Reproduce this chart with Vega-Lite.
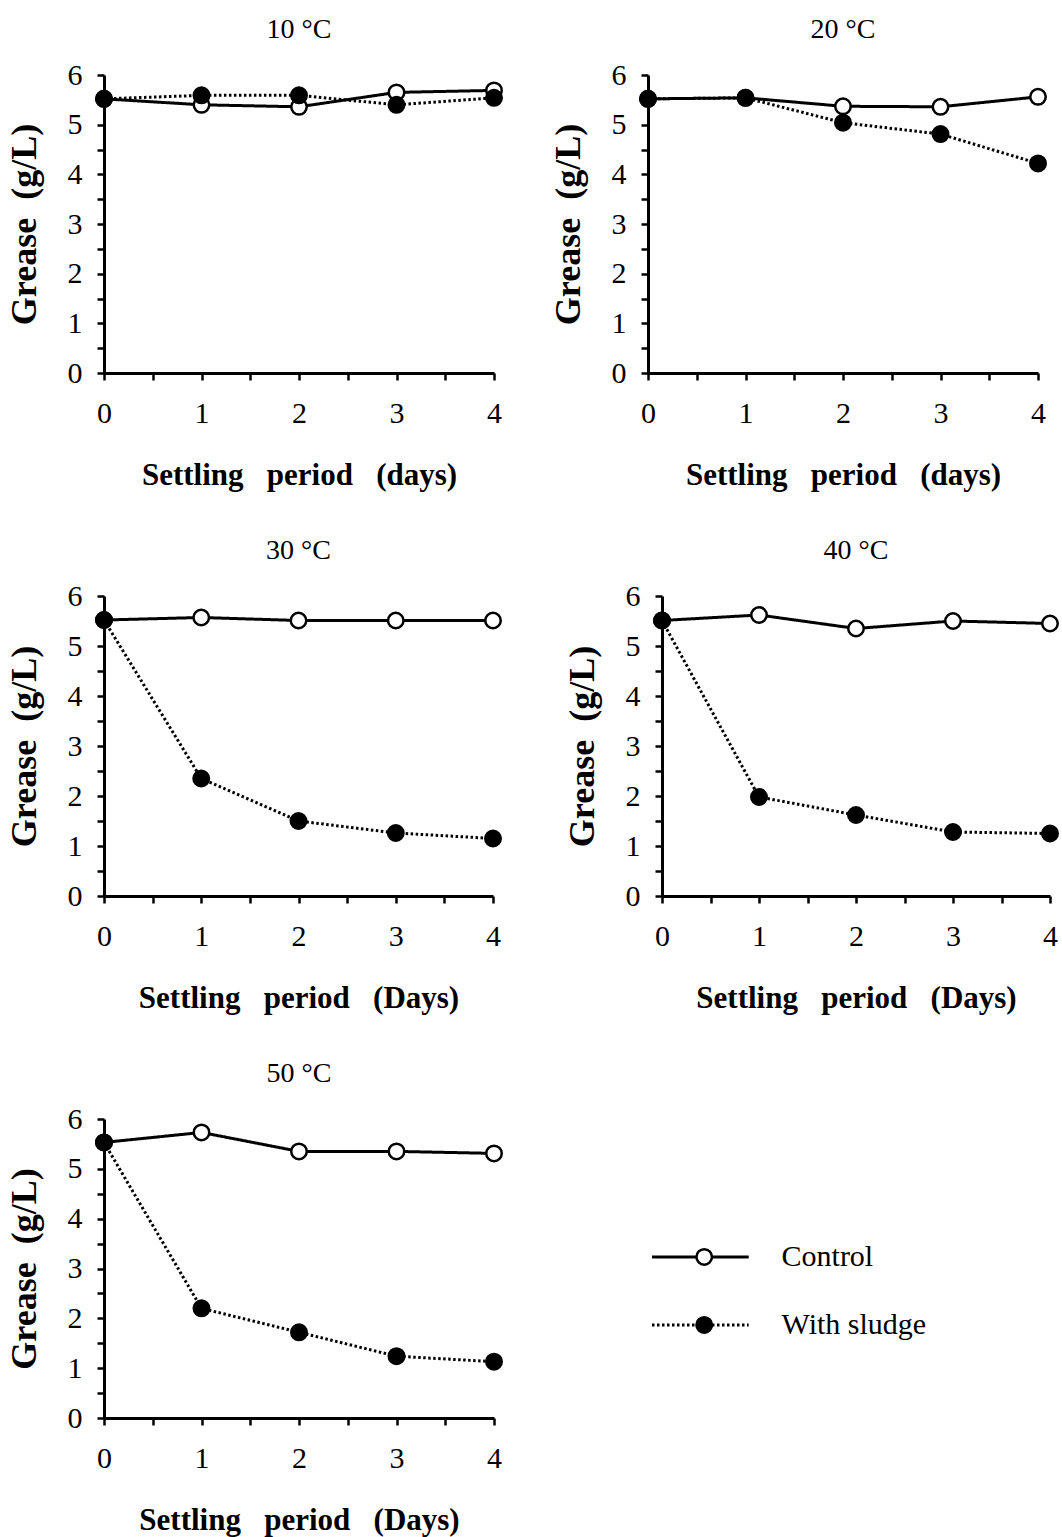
{
  "$schema": "https://vega.github.io/schema/vega-lite/v6.json",
  "background": "white",
  "padding": {"left": 6, "top": 16, "right": 5, "bottom": 5},
  "data": {"values": [
    {"temp": "10 °C", "series": "Control", "day": 0, "grease": 5.52},
    {"temp": "10 °C", "series": "Control", "day": 1, "grease": 5.40},
    {"temp": "10 °C", "series": "Control", "day": 2, "grease": 5.36},
    {"temp": "10 °C", "series": "Control", "day": 3, "grease": 5.65},
    {"temp": "10 °C", "series": "Control", "day": 4, "grease": 5.69},
    {"temp": "20 °C", "series": "Control", "day": 0, "grease": 5.52},
    {"temp": "20 °C", "series": "Control", "day": 1, "grease": 5.54},
    {"temp": "20 °C", "series": "Control", "day": 2, "grease": 5.37},
    {"temp": "20 °C", "series": "Control", "day": 3, "grease": 5.36},
    {"temp": "20 °C", "series": "Control", "day": 4, "grease": 5.56},
    {"temp": "30 °C", "series": "Control", "day": 0, "grease": 5.52},
    {"temp": "30 °C", "series": "Control", "day": 1, "grease": 5.57},
    {"temp": "30 °C", "series": "Control", "day": 2, "grease": 5.51},
    {"temp": "30 °C", "series": "Control", "day": 3, "grease": 5.51},
    {"temp": "30 °C", "series": "Control", "day": 4, "grease": 5.51},
    {"temp": "40 °C", "series": "Control", "day": 0, "grease": 5.51},
    {"temp": "40 °C", "series": "Control", "day": 1, "grease": 5.62},
    {"temp": "40 °C", "series": "Control", "day": 2, "grease": 5.35},
    {"temp": "40 °C", "series": "Control", "day": 3, "grease": 5.50},
    {"temp": "40 °C", "series": "Control", "day": 4, "grease": 5.45},
    {"temp": "50 °C", "series": "Control", "day": 0, "grease": 5.53},
    {"temp": "50 °C", "series": "Control", "day": 1, "grease": 5.73},
    {"temp": "50 °C", "series": "Control", "day": 2, "grease": 5.35},
    {"temp": "50 °C", "series": "Control", "day": 3, "grease": 5.35},
    {"temp": "50 °C", "series": "Control", "day": 4, "grease": 5.31},
    {"temp": "10 °C", "series": "With sludge", "day": 0, "grease": 5.52},
    {"temp": "10 °C", "series": "With sludge", "day": 1, "grease": 5.59},
    {"temp": "10 °C", "series": "With sludge", "day": 2, "grease": 5.59},
    {"temp": "10 °C", "series": "With sludge", "day": 3, "grease": 5.40},
    {"temp": "10 °C", "series": "With sludge", "day": 4, "grease": 5.54},
    {"temp": "20 °C", "series": "With sludge", "day": 0, "grease": 5.52},
    {"temp": "20 °C", "series": "With sludge", "day": 1, "grease": 5.54},
    {"temp": "20 °C", "series": "With sludge", "day": 2, "grease": 5.04},
    {"temp": "20 °C", "series": "With sludge", "day": 3, "grease": 4.81},
    {"temp": "20 °C", "series": "With sludge", "day": 4, "grease": 4.22},
    {"temp": "30 °C", "series": "With sludge", "day": 0, "grease": 5.52},
    {"temp": "30 °C", "series": "With sludge", "day": 1, "grease": 2.35},
    {"temp": "30 °C", "series": "With sludge", "day": 2, "grease": 1.50},
    {"temp": "30 °C", "series": "With sludge", "day": 3, "grease": 1.26},
    {"temp": "30 °C", "series": "With sludge", "day": 4, "grease": 1.15},
    {"temp": "40 °C", "series": "With sludge", "day": 0, "grease": 5.51},
    {"temp": "40 °C", "series": "With sludge", "day": 1, "grease": 1.98},
    {"temp": "40 °C", "series": "With sludge", "day": 2, "grease": 1.62},
    {"temp": "40 °C", "series": "With sludge", "day": 3, "grease": 1.28},
    {"temp": "40 °C", "series": "With sludge", "day": 4, "grease": 1.25},
    {"temp": "50 °C", "series": "With sludge", "day": 0, "grease": 5.53},
    {"temp": "50 °C", "series": "With sludge", "day": 1, "grease": 2.20},
    {"temp": "50 °C", "series": "With sludge", "day": 2, "grease": 1.72},
    {"temp": "50 °C", "series": "With sludge", "day": 3, "grease": 1.24},
    {"temp": "50 °C", "series": "With sludge", "day": 4, "grease": 1.13}
  ]},
  "config": {
    "view": {"stroke": null},
    "font": "Liberation Serif",
    "title": {"font": "Liberation Serif", "fontSize": 28, "fontWeight": "normal", "color": "black", "anchor": "middle", "offset": 16},
    "axis": {
      "grid": false,
      "domainColor": "black", "domainWidth": 3,
      "tickColor": "black", "tickWidth": 2.5, "tickSize": 7,
      "labelFont": "Liberation Serif", "labelFontSize": 30, "labelColor": "black",
      "labelFlush": false, "labelOverlap": false,
      "titleFont": "Liberation Serif", "titleFontWeight": "bold", "titleColor": "black"
    },
    "axisX": {"labelPadding": 18, "titlePadding": 32, "titleFontSize": 31},
    "axisY": {"labelPadding": 15, "titlePadding": 24, "titleFontSize": 36}
  },
  "spacing": 47,
  "vconcat": [
    {"spacing": 43, "hconcat": [
      {"title": "10 °C", "width": 390, "height": 298,
       "transform": [{"filter": "datum.temp === '10 °C'"}],
       "encoding": {
         "x": {"field": "day", "type": "quantitative", "scale": {"domain": [0, 4], "nice": false},
               "axis": {"title": "Settling\u00a0\u00a0\u00a0period\u00a0\u00a0\u00a0(days)", "values": [0, 0.5, 1, 1.5, 2, 2.5, 3, 3.5, 4], "labelExpr": "datum.value % 1 === 0 ? format(datum.value, 'd') : ''"}},
         "y": {"field": "grease", "type": "quantitative", "scale": {"domain": [0, 6], "nice": false},
               "axis": {"title": "Grease\u00a0\u00a0(g/L)", "values": [0, 0.5, 1, 1.5, 2, 2.5, 3, 3.5, 4, 4.5, 5, 5.5, 6], "labelExpr": "datum.value % 1 === 0 ? format(datum.value, 'd') : ''"}}
       },
       "layer": [
         {"mark": {"type": "line", "color": "black", "strokeWidth": 3},
          "encoding": {"strokeDash": {"field": "series", "type": "nominal", "scale": {"domain": ["Control", "With sludge"], "range": [[1, 0], [2.5, 2.5]]}, "legend": null}}},
         {"mark": {"type": "point", "shape": "circle", "filled": true, "opacity": 1, "stroke": "black", "strokeWidth": 2.5, "size": 240},
          "encoding": {"fill": {"field": "series", "type": "nominal", "scale": {"domain": ["Control", "With sludge"], "range": ["white", "black"]}, "legend": null}}}
       ]},
      {"title": "20 °C", "width": 390, "height": 298,
       "transform": [{"filter": "datum.temp === '20 °C'"}],
       "encoding": {
         "x": {"field": "day", "type": "quantitative", "scale": {"domain": [0, 4], "nice": false},
               "axis": {"title": "Settling\u00a0\u00a0\u00a0period\u00a0\u00a0\u00a0(days)", "values": [0, 0.5, 1, 1.5, 2, 2.5, 3, 3.5, 4], "labelExpr": "datum.value % 1 === 0 ? format(datum.value, 'd') : ''"}},
         "y": {"field": "grease", "type": "quantitative", "scale": {"domain": [0, 6], "nice": false},
               "axis": {"title": "Grease\u00a0\u00a0(g/L)", "values": [0, 0.5, 1, 1.5, 2, 2.5, 3, 3.5, 4, 4.5, 5, 5.5, 6], "labelExpr": "datum.value % 1 === 0 ? format(datum.value, 'd') : ''"}}
       },
       "layer": [
         {"mark": {"type": "line", "color": "black", "strokeWidth": 3},
          "encoding": {"strokeDash": {"field": "series", "type": "nominal", "scale": {"domain": ["Control", "With sludge"], "range": [[1, 0], [2.5, 2.5]]}, "legend": null}}},
         {"mark": {"type": "point", "shape": "circle", "filled": true, "opacity": 1, "stroke": "black", "strokeWidth": 2.5, "size": 240},
          "encoding": {"fill": {"field": "series", "type": "nominal", "scale": {"domain": ["Control", "With sludge"], "range": ["white", "black"]}, "legend": null}}}
       ]}
    ]},
    {"spacing": 58, "hconcat": [
      {"title": "30 °C", "width": 389, "height": 300,
       "transform": [{"filter": "datum.temp === '30 °C'"}],
       "encoding": {
         "x": {"field": "day", "type": "quantitative", "scale": {"domain": [0, 4], "nice": false},
               "axis": {"title": "Settling\u00a0\u00a0\u00a0period\u00a0\u00a0\u00a0(Days)", "values": [0, 0.5, 1, 1.5, 2, 2.5, 3, 3.5, 4], "labelExpr": "datum.value % 1 === 0 ? format(datum.value, 'd') : ''"}},
         "y": {"field": "grease", "type": "quantitative", "scale": {"domain": [0, 6], "nice": false},
               "axis": {"title": "Grease\u00a0\u00a0(g/L)", "values": [0, 0.5, 1, 1.5, 2, 2.5, 3, 3.5, 4, 4.5, 5, 5.5, 6], "labelExpr": "datum.value % 1 === 0 ? format(datum.value, 'd') : ''"}}
       },
       "layer": [
         {"mark": {"type": "line", "color": "black", "strokeWidth": 3},
          "encoding": {"strokeDash": {"field": "series", "type": "nominal", "scale": {"domain": ["Control", "With sludge"], "range": [[1, 0], [2.5, 2.5]]}, "legend": null}}},
         {"mark": {"type": "point", "shape": "circle", "filled": true, "opacity": 1, "stroke": "black", "strokeWidth": 2.5, "size": 240},
          "encoding": {"fill": {"field": "series", "type": "nominal", "scale": {"domain": ["Control", "With sludge"], "range": ["white", "black"]}, "legend": null}}}
       ]},
      {"title": "40 °C", "width": 388, "height": 300,
       "transform": [{"filter": "datum.temp === '40 °C'"}],
       "encoding": {
         "x": {"field": "day", "type": "quantitative", "scale": {"domain": [0, 4], "nice": false},
               "axis": {"title": "Settling\u00a0\u00a0\u00a0period\u00a0\u00a0\u00a0(Days)", "values": [0, 0.5, 1, 1.5, 2, 2.5, 3, 3.5, 4], "labelExpr": "datum.value % 1 === 0 ? format(datum.value, 'd') : ''"}},
         "y": {"field": "grease", "type": "quantitative", "scale": {"domain": [0, 6], "nice": false},
               "axis": {"title": "Grease\u00a0\u00a0(g/L)", "values": [0, 0.5, 1, 1.5, 2, 2.5, 3, 3.5, 4, 4.5, 5, 5.5, 6], "labelExpr": "datum.value % 1 === 0 ? format(datum.value, 'd') : ''"}}
       },
       "layer": [
         {"mark": {"type": "line", "color": "black", "strokeWidth": 3},
          "encoding": {"strokeDash": {"field": "series", "type": "nominal", "scale": {"domain": ["Control", "With sludge"], "range": [[1, 0], [2.5, 2.5]]}, "legend": null}}},
         {"mark": {"type": "point", "shape": "circle", "filled": true, "opacity": 1, "stroke": "black", "strokeWidth": 2.5, "size": 240},
          "encoding": {"fill": {"field": "series", "type": "nominal", "scale": {"domain": ["Control", "With sludge"], "range": ["white", "black"]}, "legend": null}}}
       ]}
    ]},
    {"spacing": 143, "hconcat": [
      {"title": "50 °C", "width": 390, "height": 299,
       "transform": [{"filter": "datum.temp === '50 °C'"}],
       "encoding": {
         "x": {"field": "day", "type": "quantitative", "scale": {"domain": [0, 4], "nice": false},
               "axis": {"title": "Settling\u00a0\u00a0\u00a0period\u00a0\u00a0\u00a0(Days)", "values": [0, 0.5, 1, 1.5, 2, 2.5, 3, 3.5, 4], "labelExpr": "datum.value % 1 === 0 ? format(datum.value, 'd') : ''"}},
         "y": {"field": "grease", "type": "quantitative", "scale": {"domain": [0, 6], "nice": false},
               "axis": {"title": "Grease\u00a0\u00a0(g/L)", "values": [0, 0.5, 1, 1.5, 2, 2.5, 3, 3.5, 4, 4.5, 5, 5.5, 6], "labelExpr": "datum.value % 1 === 0 ? format(datum.value, 'd') : ''"}}
       },
       "layer": [
         {"mark": {"type": "line", "color": "black", "strokeWidth": 3},
          "encoding": {"strokeDash": {"field": "series", "type": "nominal", "scale": {"domain": ["Control", "With sludge"], "range": [[1, 0], [2.5, 2.5]]}, "legend": null}}},
         {"mark": {"type": "point", "shape": "circle", "filled": true, "opacity": 1, "stroke": "black", "strokeWidth": 2.5, "size": 240},
          "encoding": {"fill": {"field": "series", "type": "nominal", "scale": {"domain": ["Control", "With sludge"], "range": ["white", "black"]}, "legend": null}}}
       ]},
      {"width": 290, "height": 299,
       "data": {"values": [{"series": "Control", "order": 1}, {"series": "With sludge", "order": 2}]},
       "encoding": {
         "y": {"field": "order", "type": "quantitative", "scale": {"domain": [-1.03, 3.37], "reverse": true, "nice": false, "zero": false}, "axis": null}
       },
       "layer": [
         {"mark": {"type": "rule", "color": "black", "strokeWidth": 3},
          "encoding": {
            "x": {"datum": 0, "type": "quantitative", "scale": {"domain": [0, 3], "nice": false}, "axis": null},
            "x2": {"datum": 1},
            "strokeDash": {"field": "series", "type": "nominal", "scale": {"domain": ["Control", "With sludge"], "range": [[1, 0], [2.5, 2.5]]}, "legend": null}}},
         {"mark": {"type": "point", "shape": "circle", "filled": true, "opacity": 1, "stroke": "black", "strokeWidth": 2.5, "size": 240},
          "encoding": {
            "x": {"datum": 0.54, "type": "quantitative"},
            "fill": {"field": "series", "type": "nominal", "scale": {"domain": ["Control", "With sludge"], "range": ["white", "black"]}, "legend": null}}},
         {"mark": {"type": "text", "align": "left", "baseline": "middle", "font": "Liberation Serif", "fontSize": 30, "color": "black"},
          "encoding": {
            "x": {"datum": 1.34, "type": "quantitative"},
            "text": {"field": "series", "type": "nominal"}}}
       ]}
    ]}
  ]
}
